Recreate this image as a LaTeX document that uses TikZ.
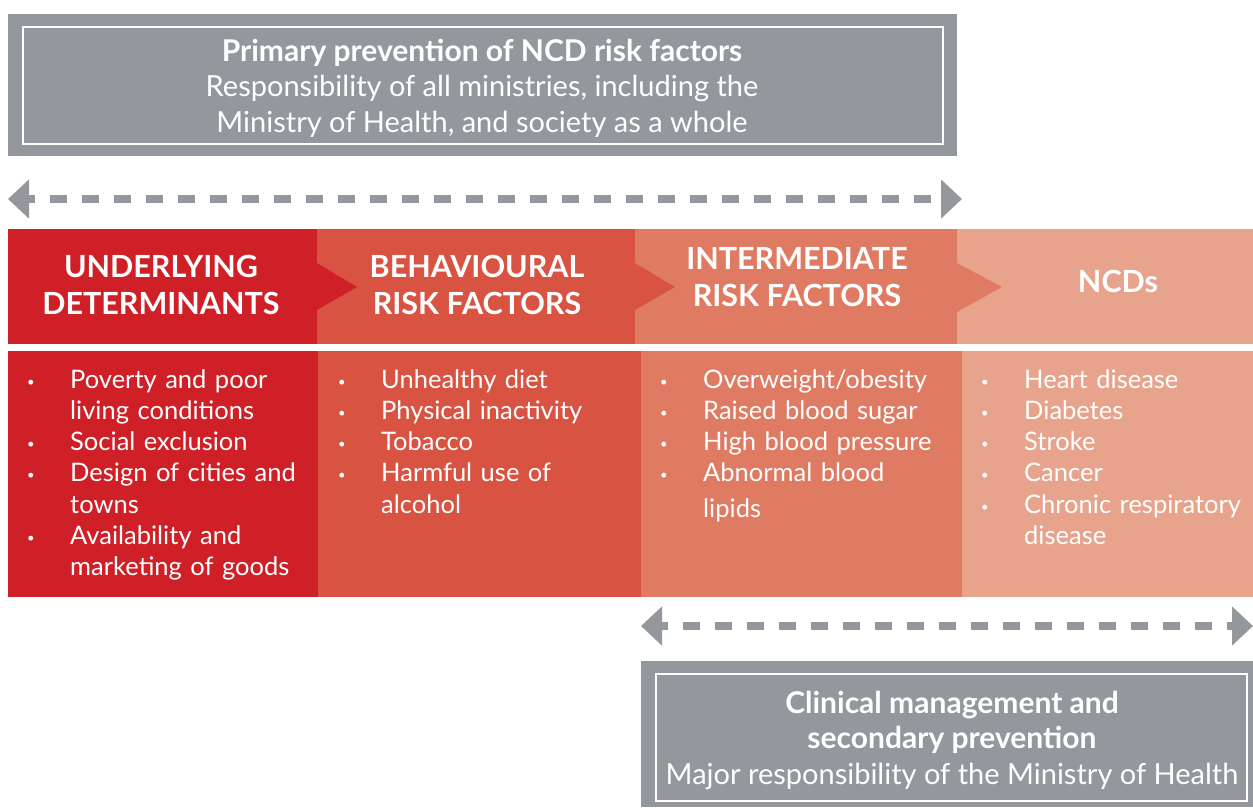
\documentclass[tikz,border=0pt]{standalone}
\usepackage{fontspec}
\setmainfont{Lato}
\usetikzlibrary{%
		arrows.meta%
	}
\definecolor{ncdgray}{RGB}{148,151,156}
\definecolor{ncdred}{RGB}{207,32,39}
\definecolor{ncdbeh}{RGB}{217,83,66}
\definecolor{ncdint}{RGB}{224,123,99}
\definecolor{ncdncd}{RGB}{232,163,140}
\newcommand{\bitem}[1]{\hyphenpenalty=10000\relax\hangindent=43pt\relax\hangafter=1\relax\makebox[43pt][l]{\raisebox{2pt}{\fontsize{13}{13}\selectfont\textbullet}}#1\par}

\begin{document}
\begin{tikzpicture}[x=1pt,y=-1pt,
		headbox/.style={minimum height=115pt, inner sep=0pt, outer sep=0pt},
		bodybox/.style={minimum height=246pt, inner sep=0pt, outer sep=0pt},
		headtext/.style={white, align=center, font=\fontsize{30.5}{37}\selectfont\bfseries},
		bodytext/.style={white, anchor=base west, inner sep=0pt, text width=#1, align=left, font=\fontsize{25.5}{31.3}\selectfont},
		graybox/.style={fill=ncdgray, inner sep=0pt, outer sep=0pt},
		grayline/.style={draw=white, line width=2pt, inner sep=0pt},
		graytext/.style={white, align=center, font=\fontsize{29}{35.5}\selectfont},
		dasharrow/.style={ncdgray, line width=8pt, dash pattern=on 17pt off 15pt, dash phase=10pt, {Triangle[length=21pt,width=38pt]}-{Triangle[length=21pt,width=38pt]}}
	]
			\path[use as bounding box] (0,0) rectangle (1253,807);
			
			% primary prevention
			\node[graybox, minimum width=949pt, minimum height=142pt] (primbox) at (482.5,85) {};
			\node[grayline, minimum width=920pt, minimum height=117pt] (primline) at (483,85.5) {};
			\node[graytext] (primtext) at (482,88) {{\fontsize{30}{35.5}\selectfont\bfseries Primary prevention of NCD risk factors}\\Responsibility of all ministries, including the\\Ministry of Health, and society as a whole};
			
			\coordinate (primL) at (8,199);
			\coordinate (primR) at (962,199);
			\draw[dasharrow] (primL) -- (primR);
			
			% headings
			\node[headbox, fill=ncdred, minimum width=309pt] (udhead) at (162.5,286.5) {};
			\node[headbox, fill=ncdbeh, minimum width=318pt] (bhhead) at (476,286.5) {};
			\fill[ncdred] (317,263) -- (357,287) -- (317,310) -- cycle;
			\node[headbox, fill=ncdint, minimum width=322pt] (imhead) at (796,286.5) {};
			\fill[ncdbeh] (635,263) -- (675,287) -- (635,310) -- cycle;
			\node[headbox, fill=ncdncd, minimum width=296pt] (ncdhead) at (1105,286.5) {};
			\fill[ncdint] (957,263) -- (1002,287) -- (957,312) -- cycle;
			
			\node[headtext] (udtext) at (161,285) {UNDERLYING\\DETERMINANTS};
			\node[headtext] (bhtext) at (477,285) {BEHAVIOURAL\\RISK FACTORS};
			\node[headtext] (imtext) at (797,277) {INTERMEDIATE\\RISK FACTORS};
			\node[headtext] (ncdtext) at (1118,281) {NCDs};
			
			% lists
			\node[bodybox, fill=ncdred, minimum width=310pt] (udbody) at (163,474) {};
			\node[bodybox, fill=ncdbeh, minimum width=323pt] (bhbody) at (479.5,474) {};
			\node[bodybox, fill=ncdint, minimum width=321pt] (imbody) at (801.5,474) {};
			\node[bodybox, fill=ncdncd, minimum width=291pt] (ncdbody) at (1107.5,474) {};
			
			\node[bodytext=280pt] (udlist) at (27,388) {\bitem{Poverty and poor living conditions}\bitem{Social exclusion}\bitem{Design of cities and towns}\bitem{Availability and marketing of goods}};
			\node[bodytext=275pt] (bhlist) at (338,388) {\bitem{Unhealthy diet}\bitem{Physical inactivity}\bitem{Tobacco}\bitem{Harmful use of alcohol}};
			\node[bodytext=290pt] (imlist) at (660,388) {\bitem{Overweight/obesity}\bitem{Raised blood sugar}\bitem{High blood pressure}\bitem{Abnormal blood\rule[-16pt]{0pt}{1pt}\hfil\break lipids}};
			\node[bodytext=270pt] (ncdlist) at (981,388) {\bitem{Heart disease}\bitem{Diabetes}\bitem{Stroke}\bitem{Cancer}\bitem{Chronic respiratory disease}};
			
			\coordinate (clinL) at (641,626);
			\coordinate (clinR) at (1253,626);
			\draw[dasharrow] (clinL) -- (clinR);
			
			% clinical management
			\node[graybox, minimum width=612pt, minimum height=146pt] (clinbox) at (947,734) {};
			\node[grayline, minimum width=591pt, minimum height=127pt] (clinline) at (951.5,737.5) {};
			\node[graytext] (clintext) at (952,740) {{\fontsize{30}{35.5}\selectfont\bfseries Clinical management and}\\{\fontsize{30}{35.5}\selectfont\bfseries secondary prevention}\\Major responsibility of the Ministry of Health};
		\end{tikzpicture}
\end{document}
